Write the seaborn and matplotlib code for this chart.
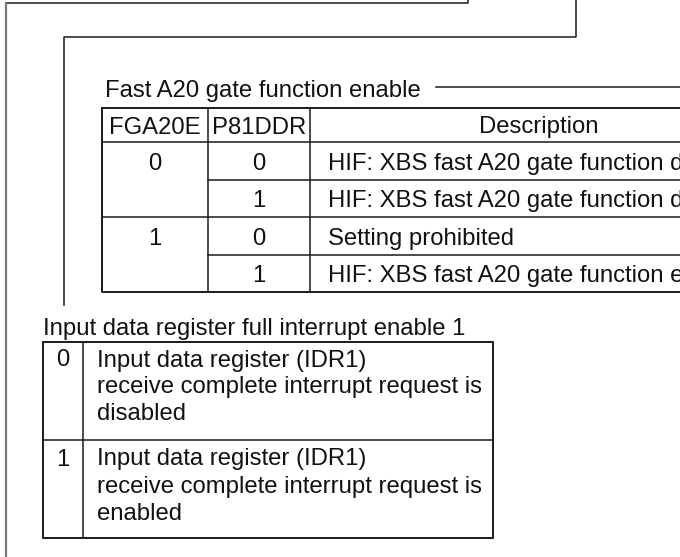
import matplotlib
matplotlib.use("Agg")
import matplotlib.pyplot as plt
import seaborn as sns

# Table contents
fga20e_values = ["0", "1"]
p81ddr_values = ["0", "1", "0", "1"]
descriptions = [
    "HIF: XBS fast A20 gate function disabled",
    "HIF: XBS fast A20 gate function disabled",
    "Setting prohibited",
    "HIF: XBS fast A20 gate function enabled",
]
table_headers = ["FGA20E", "P81DDR", "Description"]
table_title = "Fast A20 gate function enable"

ibfie_title = "Input data register full interrupt enable 1"
ibfie_bits = ["0", "1"]
ibfie_texts = [
    ["Input data register (IDR1)", "receive complete interrupt request is", "disabled"],
    ["Input data register (IDR1)", "receive complete interrupt request is", "enabled"],
]

sns.set_theme(style="white")
plt.rcParams["font.family"] = ["Liberation Sans", "DejaVu Sans"]

fig = plt.figure(figsize=(6.8, 5.57), dpi=100)
ax = fig.add_axes([0, 0, 1, 1])
ax.set_xlim(0, 680)
ax.set_ylim(557, 0)
ax.axis("off")

FS = 17.2
LC = "#1a1a1a"
LW = 1.1


def line(xs, ys, lw=LW, color=LC):
    ax.plot(xs, ys, color=color, lw=lw, solid_capstyle="projecting")


# bracket lines from the register diagram above
line([6, 468, 468], [3, 3, 0])
line([6, 6], [3, 557], color="#777777", lw=1.6)
line([64, 64, 576, 576], [305, 37, 37, 0])

# --- FGA20E / P81DDR table ---
tx0, c1, c2, tx1 = 102, 208, 310, 770
top, head_bot = 108, 142
row_h = 37.5
n_rows = len(descriptions)
bottom = head_bot + row_h * n_rows

ax.text(105, 88 + 8.5, table_title, fontsize=FS, va="baseline", ha="left", color="#111")
line([436, 680], [87, 87])

# outer frame
line([tx0, tx1, tx1, tx0, tx0], [top, top, bottom, bottom, top], lw=1.4)
line([tx0, tx1], [head_bot, head_bot])
line([c1, c1], [top, bottom])
line([c2, c2], [top, bottom])
for i in range(1, n_rows):
    y = head_bot + row_h * i
    x_start = tx0 if i % 2 == 0 else c1
    line([x_start, tx1], [y, y])

hx = [(tx0 + c1) / 2, (c1 + c2) / 2, (c2 + 768) / 2]
for x, h in zip(hx, table_headers):
    ax.text(x, (top + head_bot) / 2 + 8.5, h, fontsize=FS, ha="center", va="baseline", color="#111")

for g, v in enumerate(fga20e_values):
    yc = head_bot + row_h * 2 * g + row_h / 2
    ax.text((tx0 + c1) / 2, yc + 9, v, fontsize=FS, ha="center", va="baseline", color="#111")

for i, (p, d) in enumerate(zip(p81ddr_values, descriptions)):
    yc = head_bot + row_h * i + row_h / 2
    ax.text((c1 + c2) / 2, yc + 9, p, fontsize=FS, ha="center", va="baseline", color="#111")
    ax.text(c2 + 18, yc + 9, d, fontsize=FS, ha="left", va="baseline", color="#111")

# --- IBFIE1 table ---
bx0, bsep, bx1 = 43, 83, 493
btop, bmid, bbot = 342, 440, 538

ax.text(bx0, 327 + 8.5, ibfie_title, fontsize=FS, ha="left", va="baseline", color="#111")
line([bx0, bx1, bx1, bx0, bx0], [btop, btop, bbot, bbot, btop], lw=1.4)
line([bx0, bx1], [bmid, bmid])
line([bsep, bsep], [btop, bbot])

for k, (bit, lines_) in enumerate(zip(ibfie_bits, ibfie_texts)):
    y0 = 358 if k == 0 else 457
    ax.text((bx0 + bsep) / 2, y0 + 8.5, bit, fontsize=FS, ha="center", va="baseline", color="#111")
    for j, t in enumerate(lines_):
        ax.text(97, y0 + 27 * j + 8.5, t, fontsize=FS, ha="left", va="baseline", color="#111")

fig.savefig("out.png", dpi=100)
